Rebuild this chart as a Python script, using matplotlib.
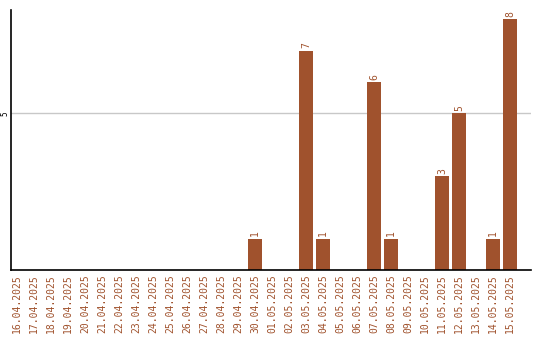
import matplotlib
matplotlib.use("Agg")
import matplotlib.pyplot as plt

dates = ["16.04.2025", "17.04.2025", "18.04.2025", "19.04.2025", "20.04.2025",
         "21.04.2025", "22.04.2025", "23.04.2025", "24.04.2025", "25.04.2025",
         "26.04.2025", "27.04.2025", "28.04.2025", "29.04.2025", "30.04.2025",
         "01.05.2025", "02.05.2025", "03.05.2025", "04.05.2025", "05.05.2025",
         "06.05.2025", "07.05.2025", "08.05.2025", "09.05.2025", "10.05.2025",
         "11.05.2025", "12.05.2025", "13.05.2025", "14.05.2025", "15.05.2025"]
counts = [0, 0, 0, 0, 0, 0, 0, 0, 0, 0, 0, 0, 0, 0, 1,
          0, 0, 7, 1, 0, 0, 6, 1, 0, 0, 3, 5, 0, 1, 8]

BROWN = "#a0522d"
FONT = "DejaVu Sans Mono"

fig = plt.figure(figsize=(5.4, 3.4), dpi=100)
ax = fig.add_axes([11 / 540, 1 - 270 / 340, 520 / 540, 260 / 340])

x = range(len(dates))
ax.bar(x, counts, width=0.82, color=BROWN, zorder=2)

for xi, v in zip(x, counts):
    if v:
        ax.text(xi, v + 0.08, str(v), rotation=90, ha="center", va="bottom",
                fontsize=7, color=BROWN, family=FONT)

ax.set_xlim(-0.35, 30.24)
ax.set_ylim(0, 8.3)
ax.set_xticks(list(x))
ax.set_xticklabels(dates, rotation=90, fontsize=7, color=BROWN, family=FONT)
ax.set_yticks([5])
ax.set_yticklabels(["5"], rotation=90, fontsize=5.5, family=FONT, va="center")
ax.tick_params(axis="x", length=0, pad=3)
ax.tick_params(axis="y", length=0, pad=1)
ax.yaxis.grid(True, color="#c8c8c8", linewidth=1, zorder=0)

for side in ("top", "right"):
    ax.spines[side].set_visible(False)
for side in ("left", "bottom"):
    ax.spines[side].set_linewidth(1.2)

fig.savefig("out.png", dpi=100)
